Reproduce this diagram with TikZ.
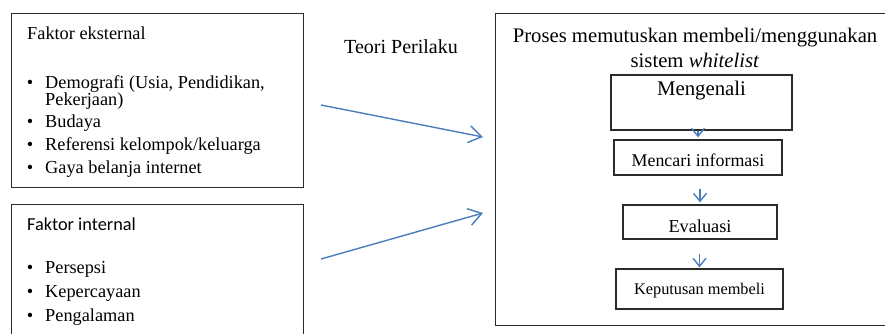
\documentclass[tikz,border=0pt]{standalone}
\usepackage{fontspec}
\setmainfont{Liberation Serif}
\newfontfamily\calibrifont{Carlito}
\usetikzlibrary{arrows.meta}
\definecolor{arrowblue}{HTML}{4A7EBB}
\definecolor{framegray}{HTML}{2B2B2B}
\tikzset{
  frame/.style={draw=framegray, line width=1.4pt, inner sep=0pt, anchor=north west},
  stepbox/.style={draw=framegray, line width=1.3pt, inner sep=0pt, align=center},
  txt/.style={inner sep=0pt, anchor=base west, font=\rmfamily\fontsize{18.3}{20}\selectfont},
  bul/.style={inner sep=0pt, anchor=base, font=\rmfamily\fontsize{18.3}{20}\selectfont},
  bigarrow/.style={draw=arrowblue, line width=1.4pt, -{Straight Barb[length=13pt,width=17pt,line width=1.4pt]}},
  smallarrow/.style={draw=arrowblue, line width=1.4pt, -{Straight Barb[length=8pt,width=13pt,line width=1.4pt]}}
}
\begin{document}
\begin{tikzpicture}[x=1pt,y=-1pt]
\useasboundingbox (0,0) rectangle (885,333);
\clip (0,0) rectangle (885,333);

% outer frames
\node[frame, minimum width=292pt, minimum height=174pt] (ext) at (11,13) {};
\node[frame, minimum width=292pt, minimum height=170pt] (int) at (11,204) {};
\node[frame, minimum width=420pt, minimum height=312pt] (proc) at (495,13) {};

% external factors
\node[txt] (extT) at (27,39) {Faktor eksternal};
\node[bul] (b1) at (30,88) {•};
\node[txt] (e1) at (45,88) {Demografi (Usia, Pendidikan,};
\node[txt] (e1b) at (45,105) {Pekerjaan)};
\node[bul] (b2) at (30,127) {•};
\node[txt] (e2) at (45,127) {Budaya};
\node[bul] (b3) at (30,150) {•};
\node[txt] (e3) at (45,150) {Referensi kelompok/keluarga};
\node[bul] (b4) at (30,173) {•};
\node[txt] (e4) at (45,173) {Gaya belanja internet};

% internal factors
\node[txt, font=\calibrifont\fontsize{18.3}{20}\selectfont] (intT) at (27,230) {Faktor internal};
\node[bul] (c1) at (30,273) {•};
\node[txt] (i1) at (45,273) {Persepsi};
\node[bul] (c2) at (30,297) {•};
\node[txt] (i2) at (45,297) {Kepercayaan};
\node[bul] (c3) at (30,321) {•};
\node[txt] (i3) at (45,321) {Pengalaman};

% theory label
\node[inner sep=0pt, anchor=base, font=\fontsize{20}{22}\selectfont] (teori) at (401,53) {Teori Perilaku};

% process title
\node[inner sep=0pt, anchor=base, font=\fontsize{20.7}{24}\selectfont] (pt1) at (695,42) {Proses memutuskan membeli/menggunakan};
\node[inner sep=0pt, anchor=base, font=\fontsize{20.7}{24}\selectfont] (pt2) at (695,67) {sistem \textit{whitelist}};

% process steps
\node[stepbox, minimum width=181pt, text height=20pt, text depth=35pt,
      font=\fontsize{20.8}{22}\selectfont] (s1) at (701.5,102.5) {Mengenali};
\node[stepbox, minimum width=168pt, text height=26pt, text depth=9pt,
      font=\fontsize{17.9}{20}\selectfont] (s2) at (698,157.5) {Mencari informasi};
\node[stepbox, minimum width=154pt, text height=27pt, text depth=7pt,
      font=\fontsize{18.3}{20}\selectfont] (s3) at (700,222) {Evaluasi};
\node[stepbox, minimum width=167pt, text height=25pt, text depth=15pt,
      font=\fontsize{16.3}{18}\selectfont] (s4) at (699.5,289) {Keputusan membeli};

\draw[smallarrow, shorten >=2pt] (s1.south -| s2.north) -- (s2.north);
\draw[smallarrow, shorten <=13pt, shorten >=2pt] (s2.south -| s3.north) -- (s3.north);
\draw[smallarrow, shorten <=14pt, shorten >=1pt] (s3.south -| s4.north) -- (s4.north);

% influence arrows
\coordinate (fromExt) at (321,105);
\coordinate (toProc1) at (483,137);
\coordinate (fromInt) at (321,259);
\coordinate (toProc2) at (483,213);
\draw[bigarrow] (fromExt) -- (toProc1);
\draw[bigarrow] (fromInt) -- (toProc2);
\end{tikzpicture}
\end{document}
